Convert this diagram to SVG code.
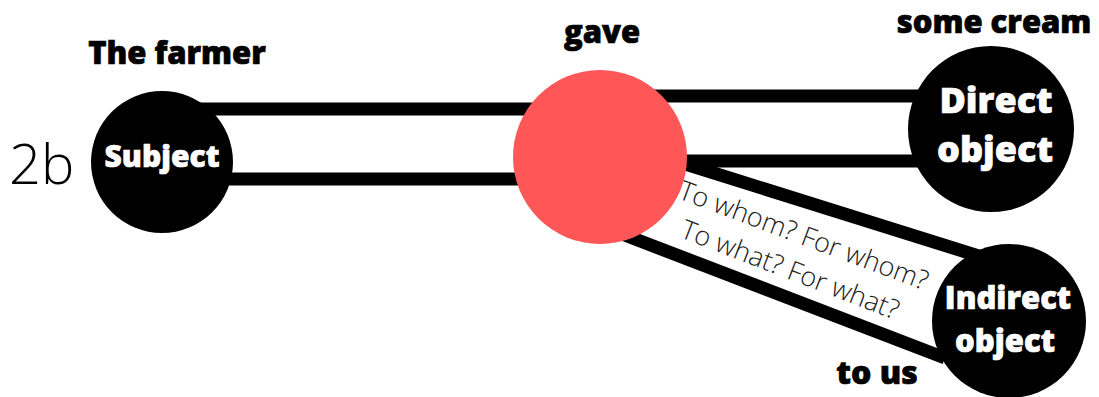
<svg xmlns="http://www.w3.org/2000/svg" width="1099" height="397" viewBox="0 0 1099 397">
<style>
.lbl{font-family:"Open Sans","Liberation Sans",sans-serif;font-weight:800;fill:#000;stroke:#000;stroke-width:0.7;text-anchor:middle}
.nt{font-family:"Open Sans","Liberation Sans",sans-serif;font-weight:800;fill:#fff;stroke:#fff;stroke-width:0.7;text-anchor:middle}
.q{font-family:"Open Sans","Liberation Sans",sans-serif;font-weight:300;fill:#222;font-size:27px}
.bar{stroke:#000;stroke-width:13;fill:none}
</style>
<rect width="1099" height="397" fill="#fff"/>
<g id="connectors">
<line class="bar" x1="190" y1="109" x2="560" y2="109"/>
<line class="bar" x1="190" y1="179" x2="560" y2="179"/>
<line class="bar" x1="640" y1="96" x2="930" y2="96"/>
<line class="bar" x1="680" y1="161" x2="930" y2="161"/>
<line class="bar" x1="682" y1="163" x2="985" y2="258"/>
<line class="bar" x1="622" y1="234" x2="945" y2="358"/>
</g>
<g id="label-2b"><text x="9" y="184" font-family="Open Sans, Liberation Sans, sans-serif" font-weight="300" font-size="56">2b</text></g>
<g id="subject">
<circle cx="162" cy="162" r="71" fill="#000"/>
<text class="nt" x="162" y="167" font-size="30">Subject</text>
<text class="lbl" x="177" y="64" font-size="31">The farmer</text>
</g>
<g id="verb">
<circle cx="600" cy="157" r="87" fill="#ff5757"/>
<text class="lbl" x="602" y="43" font-size="31">gave</text>
</g>
<g id="direct-object">
<circle cx="991" cy="129" r="83" fill="#000"/>
<text class="nt" x="996" y="113" font-size="36">Direct</text>
<text class="nt" x="995" y="162" font-size="36">object</text>
<text class="lbl" x="994" y="33" font-size="31">some cream</text>
</g>
<g id="indirect-object">
<circle cx="1009" cy="321" r="77" fill="#000"/>
<text class="nt" x="1008" y="309" font-size="31">Indirect</text>
<text class="nt" x="1005" y="352" font-size="31">object</text>
<text class="lbl" x="877" y="384" font-size="32">to us</text>
</g>
<g id="questions">
<text class="q" transform="translate(677,198) rotate(20.5)">To whom? For whom?</text>
<text class="q" transform="translate(679,237) rotate(21)">To what? For what?</text>
</g>
</svg>
